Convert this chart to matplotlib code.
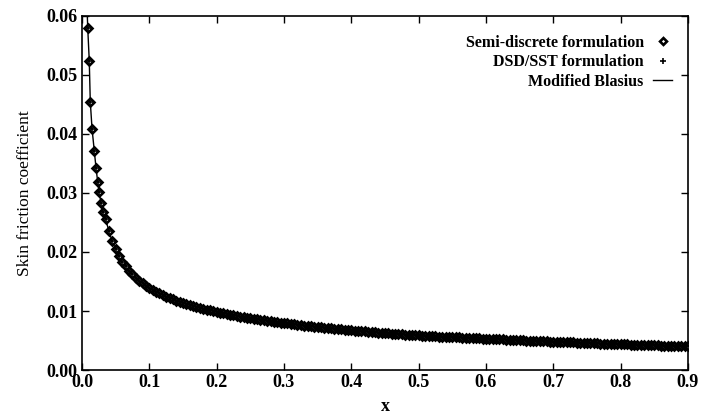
import numpy as np
import matplotlib
matplotlib.use("Agg")
import matplotlib.pyplot as plt

plt.rcParams['font.family'] = ['Liberation Serif', 'DejaVu Serif']

# puntos sueltos cerca del borde de ataque (leidos uno a uno)
x_early = [0.0085, 0.0108, 0.0123, 0.0149, 0.0183, 0.0208, 0.0233, 0.0257, 0.0282, 0.0316]
cf_early = [0.0580, 0.0524, 0.0455, 0.0409, 0.0371, 0.0343, 0.0319, 0.0301, 0.0283, 0.0268]

# malla regular despues, dx = 0.005
x_mesh = np.round(np.arange(0.035, 0.9001, 0.005), 3)
cf_mesh = [
    0.02566, 0.02350, 0.02178, 0.02048, 0.01936, 0.01837, 0.01757, 0.01686, 0.01621, 0.01563,
    0.01509, 0.01467, 0.01427, 0.01391, 0.01358, 0.01327, 0.01298, 0.01270, 0.01244, 0.01221,
    0.01198, 0.01176, 0.01155, 0.01136, 0.01118, 0.01100, 0.01083, 0.01067, 0.01052, 0.01037,
    0.01023, 0.01009, 0.00997, 0.00984, 0.00972, 0.00960, 0.00949, 0.00938, 0.00927, 0.00916,
    0.00906, 0.00896, 0.00886, 0.00877, 0.00868, 0.00859, 0.00850, 0.00842, 0.00834, 0.00826,
    0.00818, 0.00811, 0.00804, 0.00796, 0.00789, 0.00781, 0.00774, 0.00767, 0.00760, 0.00754,
    0.00747, 0.00741, 0.00735, 0.00728, 0.00722, 0.00717, 0.00711, 0.00705, 0.00700, 0.00694,
    0.00689, 0.00684, 0.00679, 0.00674, 0.00668, 0.00664, 0.00658, 0.00654, 0.00649, 0.00644,
    0.00639, 0.00635, 0.00630, 0.00626, 0.00622, 0.00617, 0.00613, 0.00609, 0.00605, 0.00601,
    0.00597, 0.00593, 0.00589, 0.00585, 0.00582, 0.00579, 0.00576, 0.00574, 0.00571, 0.00568,
    0.00565, 0.00562, 0.00560, 0.00557, 0.00554, 0.00552, 0.00549, 0.00547, 0.00544, 0.00541,
    0.00539, 0.00537, 0.00534, 0.00532, 0.00529, 0.00526, 0.00523, 0.00521, 0.00518, 0.00515,
    0.00513, 0.00510, 0.00507, 0.00505, 0.00502, 0.00500, 0.00497, 0.00495, 0.00492, 0.00490,
    0.00487, 0.00485, 0.00483, 0.00480, 0.00478, 0.00476, 0.00474, 0.00471, 0.00469, 0.00467,
    0.00464, 0.00462, 0.00460, 0.00458, 0.00456, 0.00454, 0.00451, 0.00449, 0.00447, 0.00445,
    0.00443, 0.00441, 0.00439, 0.00437, 0.00435, 0.00433, 0.00431, 0.00429, 0.00428, 0.00426,
    0.00424, 0.00422, 0.00420, 0.00418, 0.00416, 0.00414, 0.00413, 0.00411, 0.00409, 0.00407,
    0.00406, 0.00404, 0.00402, 0.00401,
]

x_semi = list(x_early) + list(x_mesh)
cf_semi = list(cf_early) + list(cf_mesh)

# DSD/SST cae encima de semi-discreto a esta resolucion
x_dsd = x_semi
cf_dsd = list(cf_semi)

# Blasius modificado: mismo trazado, arranca algo antes (sale por arriba)
x_blasius = [0.0075] + x_semi
cf_blasius = [0.0615] + cf_semi

x_ticks = [0.0, 0.1, 0.2, 0.3, 0.4, 0.5, 0.6, 0.7, 0.8, 0.9]
y_ticks = [0.00, 0.01, 0.02, 0.03, 0.04, 0.05, 0.06]

fig = plt.figure(figsize=(7.02, 4.2), dpi=100)
ax = fig.add_axes([0.1168, 0.119, 0.8632, 0.843])

ax.plot(x_blasius, cf_blasius, color='black', lw=1.0, label='Modified Blasius', zorder=2)
ax.plot(x_semi, cf_semi, ls='none', marker='D', ms=4, mfc='white', mec='black', mew=1.9,
        label='Semi-discrete formulation', zorder=3)
ax.plot(x_dsd, cf_dsd, ls='none', marker='+', ms=5, mec='black', mew=1.2,
        label='DSD/SST formulation', zorder=4)

ax.set_xlim(0, 0.9)
ax.set_ylim(0, 0.06)
ax.set_xticks(x_ticks)
ax.set_yticks(y_ticks)
ax.set_xticklabels(['%.1f' % v for v in x_ticks], fontsize=13, fontweight='bold')
ax.set_yticklabels(['%.2f' % v for v in y_ticks], fontsize=13, fontweight='bold')
ax.tick_params(direction='in', top=True, right=True, length=5, width=1, pad=3)
for s in ax.spines.values():
    s.set_linewidth(1.2)

ax.set_xlabel('x', fontsize=13, fontweight='bold', labelpad=5)
ax.set_ylabel('Skin friction coefficient', fontsize=12.5, labelpad=10)

# leyenda: texto a la izquierda, marcador a la derecha
h, l = ax.get_legend_handles_labels()
order = [1, 2, 0]
leg = ax.legend([h[i] for i in order], [l[i] for i in order], loc='upper right',
                bbox_to_anchor=(0.985, 0.965), frameon=False, markerfirst=False,
                prop={'size': 11.5, 'weight': 'bold'}, handlelength=1.2,
                handletextpad=0.6, labelspacing=0.22, numpoints=1, borderaxespad=0)
leg.legend_handles[0].set_markersize(3.5)

fig.savefig('out.png', dpi=100)
